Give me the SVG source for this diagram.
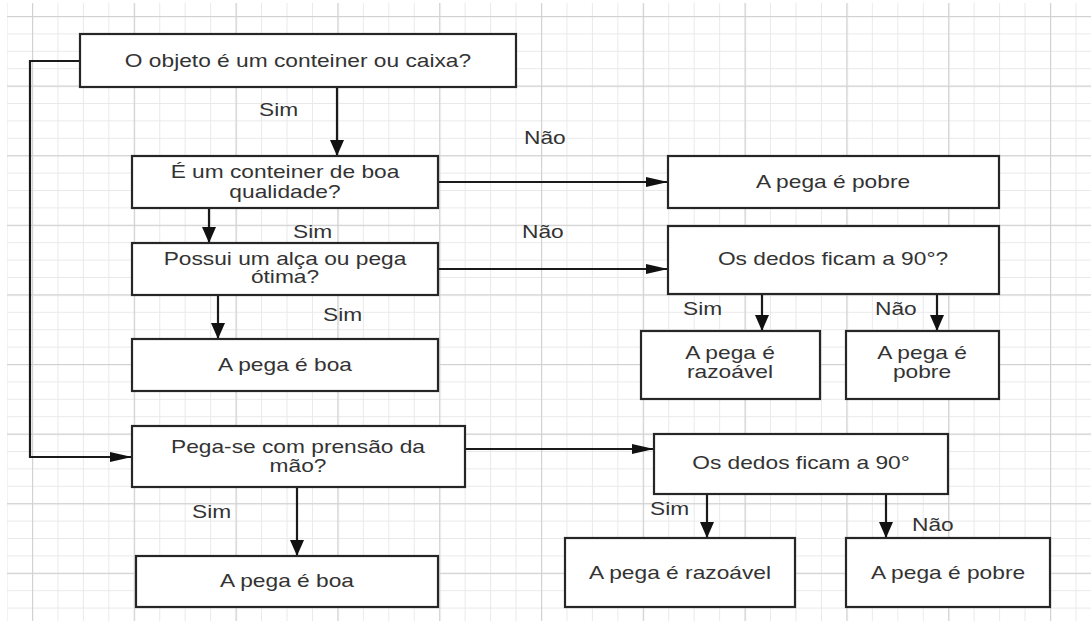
<svg xmlns="http://www.w3.org/2000/svg" width="1091" height="621" viewBox="0 0 1091 621">
  <defs>
    <pattern id="minor" patternUnits="userSpaceOnUse" x="32" y="16" width="25.45" height="17.4">
      <rect x="0" y="0" width="1" height="17.4" fill="#e9e9e9"/>
      <rect x="0" y="0" width="25.45" height="1" fill="#e9e9e9"/>
    </pattern>
    <pattern id="major" patternUnits="userSpaceOnUse" x="32" y="16" width="101.8" height="69.6">
      <rect x="0" y="0" width="1.2" height="69.6" fill="#d2d2d2"/>
      <rect x="0" y="0" width="101.8" height="1.2" fill="#d2d2d2"/>
    </pattern>
    <marker id="ad" markerUnits="userSpaceOnUse" markerWidth="16" markerHeight="16" refX="16" refY="7" orient="auto">
      <path d="M0,0 L16,7 L0,14 Z" fill="#111"/>
    </marker>
    <marker id="ar" markerUnits="userSpaceOnUse" markerWidth="23" markerHeight="12" refX="22" refY="5" orient="auto">
      <path d="M0,0 L22,5 L0,10 Z" fill="#111"/>
    </marker>
    <style>
      .box { fill: #ffffff; stroke: #262626; stroke-width: 2.2; }
      .t { font-family: "Liberation Sans", Arial, sans-serif; font-size: 17.5px; fill: #333333; text-anchor: middle; }
      .l { font-family: "Liberation Sans", Arial, sans-serif; font-size: 17.5px; fill: #333333; text-anchor: start; }
      .c { fill: none; stroke: #1a1a1a; stroke-width: 2.2; }
      .cd { marker-end: url(#ad); }
      .cr { marker-end: url(#ar); }
    </style>
  </defs>

  <rect x="0" y="0" width="1091" height="621" fill="#ffffff"/>
  <rect x="7" y="3" width="1084" height="618" fill="url(#minor)"/>
  <rect x="7" y="3" width="1084" height="618" fill="url(#major)"/>

  <g id="connectors">
    <path class="c cd" d="M337,87 L337,156"/>
    <path class="c cr" d="M438,182 L668,182"/>
    <path class="c cd" d="M209,208 L209,243"/>
    <path class="c cr" d="M438,269 L668,269"/>
    <path class="c cd" d="M218,295 L218,339"/>
    <path class="c cd" d="M762,294 L762,331"/>
    <path class="c cd" d="M937,294 L937,331"/>
    <path class="c cr" d="M80,61 L30,61 L30,457 L132,457"/>
    <path class="c cr" d="M465,449 L654,449"/>
    <path class="c cd" d="M297,487 L297,556"/>
    <path class="c cd" d="M707,494 L707,538"/>
    <path class="c cd" d="M886,494 L886,538"/>
  </g>

  <g id="labels">
    <text class="l" transform="translate(259,116) scale(1.3,1)">Sim</text>
    <text class="l" transform="translate(524,144) scale(1.3,1)">Não</text>
    <text class="l" transform="translate(293,238) scale(1.3,1)">Sim</text>
    <text class="l" transform="translate(522,238) scale(1.3,1)">Não</text>
    <text class="l" transform="translate(323,321) scale(1.3,1)">Sim</text>
    <text class="l" transform="translate(683,315) scale(1.3,1)">Sim</text>
    <text class="l" transform="translate(875,315) scale(1.3,1)">Não</text>
    <text class="l" transform="translate(192,518) scale(1.3,1)">Sim</text>
    <text class="l" transform="translate(650,515) scale(1.3,1)">Sim</text>
    <text class="l" transform="translate(912,531) scale(1.3,1)">Não</text>
  </g>

  <g id="n1">
    <rect class="box" x="80" y="34" width="436" height="53"/>
    <text class="t" transform="translate(298,67) scale(1.3,1)">O objeto é um conteiner ou caixa?</text>
  </g>
  <g id="n2">
    <rect class="box" x="132" y="156" width="306" height="52"/>
    <text class="t" transform="translate(285,178) scale(1.3,1)">É um conteiner de boa</text>
    <text class="t" transform="translate(285,198) scale(1.3,1)">qualidade?</text>
  </g>
  <g id="n3">
    <rect class="box" x="668" y="156" width="331" height="52"/>
    <text class="t" transform="translate(833,188) scale(1.3,1)">A pega é pobre</text>
  </g>
  <g id="n4">
    <rect class="box" x="132" y="243" width="306" height="52"/>
    <text class="t" transform="translate(285,265) scale(1.3,1)">Possui um alça ou pega</text>
    <text class="t" transform="translate(285,283) scale(1.3,1)">ótima?</text>
  </g>
  <g id="n5">
    <rect class="box" x="668" y="226" width="331" height="68"/>
    <text class="t" transform="translate(833,265) scale(1.3,1)">Os dedos ficam a 90°?</text>
  </g>
  <g id="n6">
    <rect class="box" x="132" y="339" width="306" height="52"/>
    <text class="t" transform="translate(285,371) scale(1.3,1)">A pega é boa</text>
  </g>
  <g id="n7">
    <rect class="box" x="641" y="331" width="179" height="68"/>
    <text class="t" transform="translate(730,359) scale(1.3,1)">A pega é</text>
    <text class="t" transform="translate(730,378) scale(1.3,1)">razoável</text>
  </g>
  <g id="n8">
    <rect class="box" x="846" y="331" width="153" height="68"/>
    <text class="t" transform="translate(922,359) scale(1.3,1)">A pega é</text>
    <text class="t" transform="translate(922,378) scale(1.3,1)">pobre</text>
  </g>
  <g id="n9">
    <rect class="box" x="132" y="426" width="333" height="61"/>
    <text class="t" transform="translate(298,453) scale(1.3,1)">Pega-se com prensão da</text>
    <text class="t" transform="translate(298,472) scale(1.3,1)">mão?</text>
  </g>
  <g id="n10">
    <rect class="box" x="136" y="556" width="302" height="51"/>
    <text class="t" transform="translate(287,587) scale(1.3,1)">A pega é boa</text>
  </g>
  <g id="n11">
    <rect class="box" x="654" y="434" width="294" height="60"/>
    <text class="t" transform="translate(801,469) scale(1.3,1)">Os dedos ficam a 90°</text>
  </g>
  <g id="n12">
    <rect class="box" x="565" y="538" width="230" height="69"/>
    <text class="t" transform="translate(680,579) scale(1.3,1)">A pega é razoável</text>
  </g>
  <g id="n13">
    <rect class="box" x="846" y="538" width="204" height="69"/>
    <text class="t" transform="translate(948,579) scale(1.3,1)">A pega é pobre</text>
  </g>
</svg>
